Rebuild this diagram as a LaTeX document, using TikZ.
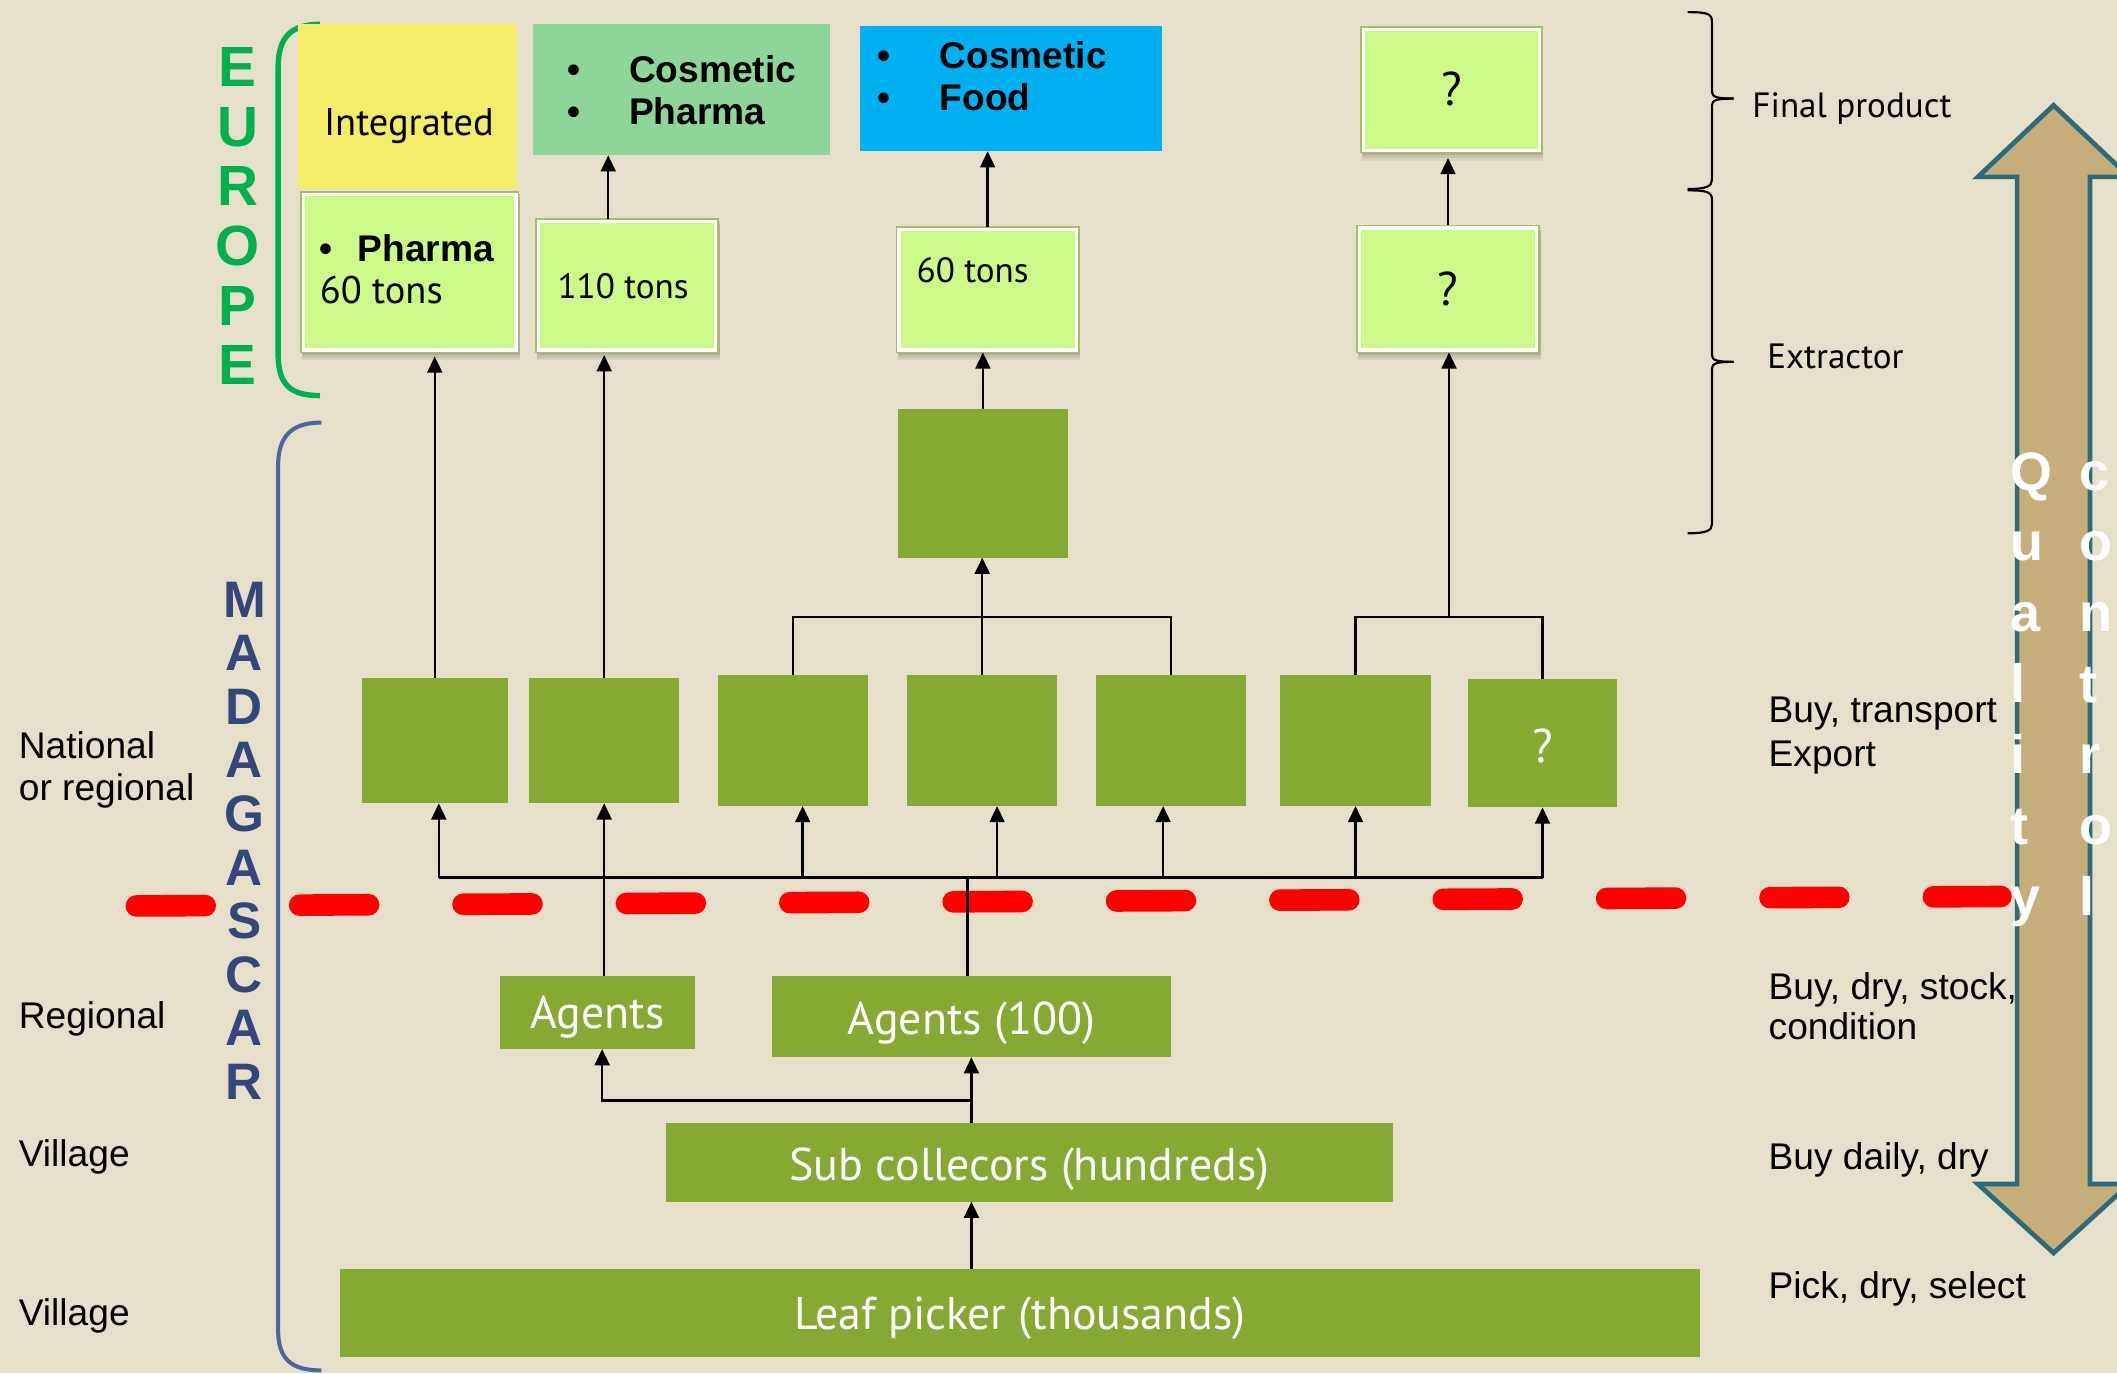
\documentclass[tikz,border=0pt]{standalone}
\usepackage{fontspec}
\setmainfont{Liberation Sans}
\newfontfamily\gillf{PT Sans}
\usetikzlibrary{arrows.meta,shadows,decorations.pathreplacing,calc}
\definecolor{bg}{HTML}{E6DFC9}
\definecolor{olivegreen}{HTML}{86A934}
\definecolor{limefill}{HTML}{CCFA88}
\definecolor{limeedge}{HTML}{A3BF62}
\definecolor{yellowbox}{HTML}{F2EC68}
\definecolor{mintbox}{HTML}{8ED598}
\definecolor{bluebox}{HTML}{00B0F0}
\definecolor{eugreen}{HTML}{00B050}
\definecolor{madtext}{HTML}{34467A}
\definecolor{madline}{HTML}{4F65A0}
\definecolor{qcfill}{HTML}{C6AE7B}
\definecolor{qcedge}{HTML}{2C6A7C}
\definecolor{dashred}{HTML}{FF0000}
\begin{document}
\begin{tikzpicture}[x=1pt,y=-1pt,
  every node/.style={inner sep=0pt, outer sep=0pt},
  sz/.style 2 args={rectangle, minimum width=#1, minimum height=#2},
  olive/.style={fill=olivegreen},
  lime/.style={fill=limefill, draw=limeedge, line width=1.2pt,
    drop shadow={shadow xshift=1pt, shadow yshift=-2pt, fill=black, opacity=0.10},
    drop shadow={shadow xshift=1pt, shadow yshift=-4pt, fill=black, opacity=0.08},
    drop shadow={shadow xshift=1pt, shadow yshift=-6pt, fill=black, opacity=0.06},
    path picture={\draw[white, line width=6pt] (path picture bounding box.south west) rectangle (path picture bounding box.north east);}},
  arr/.style={-{Triangle[length=12pt,width=11pt]}, line width=1.8pt},
  ln/.style={line width=1.8pt},
  bracestyle/.style={line width=1.6pt, line join=round},
  ar/.style={font=\fontsize{27.5pt}{32pt}\selectfont, anchor=base west, text=black},
  arb/.style={font=\bfseries\fontsize{27.5pt}{32pt}\selectfont, anchor=base west, text=black},
  gs/.style={font=\gillf\fontsize{26pt}{30pt}\selectfont, anchor=base west, text=black},
  gsl/.style={font=\gillf\fontsize{28.5pt}{32pt}\selectfont, anchor=base west, text=black},
  gq/.style={font=\gillf\fontsize{35pt}{38pt}\selectfont, anchor=base, text=black},
  gw/.style={font=\gillf\fontsize{34pt}{38pt}\selectfont, anchor=base, text=white},
  eu/.style={font=\bfseries\fontsize{42pt}{44pt}\selectfont, anchor=base, text=eugreen},
  mad/.style={font=\bfseries\fontsize{38pt}{40pt}\selectfont, anchor=base, text=madtext},
  qc/.style={font=\bfseries\fontsize{40pt}{44pt}\selectfont, anchor=base west, text=white}
]
\useasboundingbox (0,0) rectangle (1568,1017);
\fill[bg] (0,0) rectangle (1568,1017);
\begin{scope}
\clip (0,0) rectangle (1568,1017);

% brackets
\draw[eugreen, line width=4pt] (237,18) .. controls (215,18) and (206,28) .. (206,50) -- (206,262) .. controls (206,285) and (215,293) .. (237,293);
\draw[madline, line width=3pt] (238,313) .. controls (216,313) and (206,323) .. (206,345) -- (206,985) .. controls (206,1007) and (216,1015) .. (238,1015);

% quality double arrow
\draw[qcedge, line width=3.5pt, fill=qcfill, line join=miter]
  (1521,78) -- (1577,131) -- (1548,131) -- (1548,877) -- (1577,877) -- (1521,928)
  -- (1465,877) -- (1494,877) -- (1494,131) -- (1465,131) -- cycle;

% right braces
\coordinate (br1) at (1284,73);
\coordinate (br2) at (1284,268);
\draw[bracestyle] (1250,9) .. controls (1264,9) and (1268,10) .. (1268,16) -- (1268,68)
  .. controls (1268,72) and (1272,73) .. (br1);
\draw[bracestyle] (br1) .. controls (1272,73) and (1268,74) .. (1268,78) -- (1268,133)
  .. controls (1268,138) and (1264,140) .. (1250,140);
\draw[bracestyle] (1250,141) .. controls (1264,141) and (1268,142) .. (1268,148) -- (1268,263)
  .. controls (1268,267) and (1272,268) .. (br2);
\draw[bracestyle] (br2) .. controls (1272,268) and (1268,269) .. (1268,273) -- (1268,388)
  .. controls (1268,393) and (1264,395) .. (1250,395);

% boxes
\node[sz={162pt}{122pt}, fill=yellowbox] (integ) at (302,79) {};
\node[sz={161pt}{119pt}, lime] (pharma) at (303.5,201.5) {};
\node[sz={220pt}{97pt}, fill=mintbox] (cp) at (505,66.5) {};
\node[sz={135pt}{99pt}, lime] (t110) at (464.5,211.5) {};
\node[sz={224pt}{93pt}, fill=bluebox] (cf) at (749,65.5) {};
\node[sz={135pt}{93pt}, lime] (t60) at (731.5,214.5) {};
\node[sz={134pt}{93pt}, lime] (qt) at (1075,66.5) {};
\node[sz={135pt}{94pt}, lime] (qm) at (1072.5,214) {};
\node[sz={126pt}{110pt}, olive] (dark) at (728,358) {};
\node[sz={108pt}{93pt}, olive] (b1) at (322,548.5) {};
\node[sz={111pt}{93pt}, olive] (b2) at (447.5,548.5) {};
\node[sz={111pt}{97pt}, olive] (b3) at (587.5,548.5) {};
\node[sz={111pt}{97pt}, olive] (b4) at (727.5,548.5) {};
\node[sz={111pt}{97pt}, olive] (b5) at (867.5,548.5) {};
\node[sz={112pt}{97pt}, olive] (b6) at (1004,548.5) {};
\node[sz={111pt}{95pt}, olive] (b7) at (1142.5,550.5) {};
\node[sz={145pt}{54pt}, olive] (agents) at (442.5,750) {};
\node[sz={295pt}{60pt}, olive] (a100) at (719.5,753) {};
\node[sz={539pt}{58pt}, olive] (sub) at (762.5,861) {};
\node[sz={1007pt}{65pt}, olive] (leaf) at (755.5,972.5) {};

% red dashed border
\draw[dashred, line width=16pt, line cap=round, dash pattern=on 51pt off 70pt] (101,671) -- (1482,664);

% helper heights
\coordinate (hA) at (0,457);
\coordinate (hB) at (0,650);
\coordinate (hC) at (0,815);

% upper connectors
\draw[arr, shorten >=3pt] (b1.north) -- (b1.north |- pharma.south);
\draw[arr, shorten >=2pt] (b2.north) -- (b2.north |- t110.south);
\draw[arr] ([xshift=-14pt]t110.north) -- ([xshift=-14pt]t110.north |- cp.south);
\draw[ln] (b3.north) -- (b3.north |- hA) -- (b5.north |- hA) -- (b5.north);
\draw[arr] (b4.north) -- (b4.north |- dark.south);
\draw[arr] (dark.north) -- (dark.north |- t60.south);
\draw[arr] (t60.north) -- (t60.north |- cf.south);
\draw[ln] (b6.north) -- (b6.north |- hA) -- (b7.north |- hA) -- (b7.north);
\coordinate (j2) at ($(b6.north |- hA)!0.5!(b7.north |- hA)$);
\draw[arr] (j2) -- (j2 |- qm.south);
\draw[arr, shorten >=4pt] (qm.north) -- (qm.north |- qt.south);

% bus
\draw[ln] ([xshift=3pt]b1.south |- hB) -- (b7.south |- hB);
\draw[arr] ([xshift=3pt]b1.south |- hB) -- ([xshift=3pt]b1.south);
\draw[arr] ([xshift=7pt]b3.south |- hB) -- ([xshift=7pt]b3.south);
\draw[arr] ([xshift=11pt]b4.south |- hB) -- ([xshift=11pt]b4.south);
\draw[arr] ([xshift=-6pt]b5.south |- hB) -- ([xshift=-6pt]b5.south);
\draw[arr] (b6.south |- hB) -- (b6.south);
\draw[arr] (b7.south |- hB) -- (b7.south);
\draw[arr] (agents.north -| b2.south) -- (b2.south);
\draw[ln] ([xshift=-3pt]a100.north) -- ([xshift=-3pt]a100.north |- hB);

% lower connectors
\draw[arr] (sub.north -| a100.south) -- (a100.south);
\draw[arr] (a100.south |- hC) -- ([xshift=3.5pt]agents.south |- hC) -- ([xshift=3.5pt]agents.south);
\draw[arr] (leaf.north -| a100.south) -- (sub.south -| a100.south);

% texts in top boxes
\node[gsl] (tinteg) at (240,100) {Integrated};
\node[arb] (tpb) at (237,194) {\textbullet};
\node[arb] (tph) at (265,194) {Pharma};
\node[gsl] (tph60) at (237,225) {60 tons};
\node[arb] (cpb1) at (420,61) {\textbullet};
\node[arb] (cpt1) at (466,61) {Cosmetic};
\node[arb] (cpb2) at (420,92) {\textbullet};
\node[arb] (cpt2) at (466,92) {Pharma};
\node[arb] (cfb1) at (650,51) {\textbullet};
\node[arb] (cft1) at (696,51) {Cosmetic};
\node[arb] (cfb2) at (650,82) {\textbullet};
\node[arb] (cft2) at (696,82) {Food};
\node[gs] (t110t) at (413,221) {110 tons};
\node[gs] (t60t) at (679,209) {60 tons};
\node[gq] (qtt) at (1075,78) {?};
\node[gq] (qmt) at (1072.5,226) {?};
\node[gq, text=white] (b7t) at (1142.5,565) {?};

% texts in lower boxes
\node[gw] (agt) at (442.5,762) {Agents};
\node[gw] (a100t) at (719.5,766) {Agents (100)};
\node[gw] (subt) at (762.5,874) {Sub collecors (hundreds)};
\node[gw] (leaft) at (755.5,985) {Leaf picker (thousands)};

% left labels
\node[ar] (ln1) at (14,562) {National};
\node[ar] (ln2) at (14,593) {or regional};
\node[ar] (lreg) at (14,762) {Regional};
\node[ar] (lvil1) at (14,864) {Village};
\node[ar] (lvil2) at (14,982) {Village};

% right labels
\node[gs] (rfin) at (1298,87) {Final product};
\node[gs] (rext) at (1309,273) {Extractor};
\node[ar] (r1a) at (1310,535) {Buy, transport};
\node[ar] (r1b) at (1310,568) {Export};
\node[ar] (r2a) at (1310,740) {Buy, dry, stock,};
\node[ar] (r2b) at (1310,770) {condition};
\node[ar] (r3) at (1310,866) {Buy daily, dry};
\node[ar] (r4) at (1310,962) {Pick, dry, select};

% vertical words
\foreach \l [count=\i] in {E,U,R,O,P,E}
  \node[eu] (eu\i) at (176,{64+44.2*(\i-1)}) {\l};
\foreach \l [count=\i] in {M,A,D,A,G,A,S,C,A,R}
  \node[mad] (md\i) at (181,{457+39.7*(\i-1)}) {\l};
\foreach \l [count=\i] in {Q,u,a,l,i,t,y}
  \node[qc] (qa\i) at (1489,{363+52.5*(\i-1)}) {\l};
\foreach \l [count=\i] in {c,o,n,t,r,o,l}
  \node[qc] (qb\i) at (1540,{363+52.5*(\i-1)}) {\l};
\end{scope}
\end{tikzpicture}
\end{document}
